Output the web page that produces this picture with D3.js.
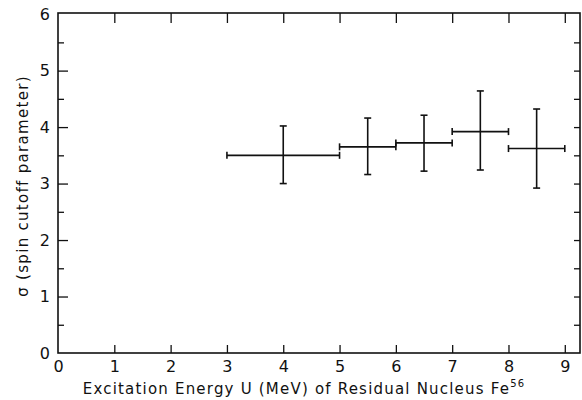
<!DOCTYPE html>
<html>
<head>
<meta charset="utf-8">
<script src="https://cdn.jsdelivr.net/npm/d3@7"></script>
<style>
  html, body { margin: 0; padding: 0; background: #fff; }
  svg { display: block; }
  text { font-family: "DejaVu Sans", "Liberation Sans", sans-serif; fill: #111; }
</style>
</head>
<body>
<svg id="chart" width="582" height="400"></svg>
<script>
// ---- data ----
const energy      = [4, 5.5, 6.5, 7.5, 8.5];      // bin centres (MeV)
const energyLow   = [3, 5, 6, 7, 8];
const energyHigh  = [5, 6, 7, 8, 9];
const sigma       = [3.50, 3.65, 3.72, 3.92, 3.62];
const sigmaLow    = [3.00, 3.16, 3.22, 3.24, 2.92];
const sigmaHigh   = [4.02, 4.16, 4.21, 4.64, 4.32];
const xTicks      = [0, 1, 2, 3, 4, 5, 6, 7, 8, 9];
const yTicks      = [0, 1, 2, 3, 4, 5, 6];
const yMinorTicks = [0.5, 1.5, 2.5, 3.5, 4.5, 5.5];
const yRightTicks = [0.5, 1, 1.5, 2, 2.5, 3, 3.5, 4, 4.5, 5, 5.5];
const xLabel = "Excitation Energy U (MeV) of Residual Nucleus Fe";
const xLabelSup = "56";
const yLabel = "σ (spin cutoff parameter)";

const svg = d3.select("#chart");
const mLeft = 58, mRight = 580, mTop = 13, mBottom = 353;
const x = d3.scaleLinear().domain([0, 9.27]).range([mLeft, mRight]);
const y = d3.scaleLinear().domain([0, 6.02]).range([mBottom, mTop]);

const ink = "#111";
const fmt = d3.format("d");

// frame
svg.append("rect")
  .attr("x", mLeft).attr("y", mTop)
  .attr("width", mRight - mLeft).attr("height", mBottom - mTop)
  .attr("fill", "none").attr("stroke", ink).attr("stroke-width", 1.6);

// bottom axis (inward ticks)
const bAxis = svg.append("g").attr("transform", `translate(0,${mBottom})`)
  .call(d3.axisTop(x).tickValues(xTicks.filter(d => d > 0)).tickSize(8).tickFormat(""));
bAxis.select(".domain").remove();
bAxis.selectAll("line").attr("stroke", ink).attr("stroke-width", 1.3);

// x tick labels
const xl = svg.append("g").attr("transform", `translate(0,${mBottom})`)
  .call(d3.axisBottom(x).tickValues(xTicks).tickSize(0).tickPadding(8).tickFormat(fmt));
xl.select(".domain").remove();
xl.selectAll("text").attr("font-size", 16).attr("dy", "0.71em");

// top axis (inward ticks)
const tAxis = svg.append("g").attr("transform", `translate(0,${mTop})`)
  .call(d3.axisBottom(x).tickValues(xTicks.filter(d => d > 0)).tickSize(10).tickFormat(""));
tAxis.select(".domain").remove();
tAxis.selectAll("line").attr("stroke", ink).attr("stroke-width", 1.3);

// left axis major (inward)
const lAxis = svg.append("g").attr("transform", `translate(${mLeft},0)`)
  .call(d3.axisRight(y).tickValues(yTicks.filter(d => d > 0 && d < 6)).tickSize(10).tickFormat(""));
lAxis.select(".domain").remove();
lAxis.selectAll("line").attr("stroke", ink).attr("stroke-width", 1.3);

// left minor
const lMinor = svg.append("g").attr("transform", `translate(${mLeft},0)`)
  .call(d3.axisRight(y).tickValues(yMinorTicks).tickSize(6).tickFormat(""));
lMinor.select(".domain").remove();
lMinor.selectAll("line").attr("stroke", ink).attr("stroke-width", 1.3);

// y tick labels
const yl = svg.append("g").attr("transform", `translate(${mLeft},0)`)
  .call(d3.axisLeft(y).tickValues(yTicks).tickSize(0).tickPadding(8).tickFormat(fmt));
yl.select(".domain").remove();
yl.selectAll("text").attr("font-size", 16);

// right axis (inward)
const rAxis = svg.append("g").attr("transform", `translate(${mRight},0)`)
  .call(d3.axisLeft(y).tickValues(yRightTicks).tickSize(6).tickFormat(""));
rAxis.select(".domain").remove();
rAxis.selectAll("line").attr("stroke", ink).attr("stroke-width", 1.3);

// error bars
const cap = 3.5;
const pts = energy.map((e, i) => ({
  x: e, lo: energyLow[i], hi: energyHigh[i],
  y: sigma[i], ylo: sigmaLow[i], yhi: sigmaHigh[i]
}));
const g = svg.append("g").attr("stroke", ink).attr("stroke-width", 1.6).attr("fill", "none");
const eb = g.selectAll("g.eb").data(pts).join("g").attr("class", "eb");
eb.append("line")
  .attr("x1", d => x(d.lo)).attr("x2", d => x(d.hi))
  .attr("y1", d => y(d.y)).attr("y2", d => y(d.y));
eb.append("line")
  .attr("x1", d => x(d.lo)).attr("x2", d => x(d.lo))
  .attr("y1", d => y(d.y) - cap).attr("y2", d => y(d.y) + cap);
eb.append("line")
  .attr("x1", d => x(d.hi)).attr("x2", d => x(d.hi))
  .attr("y1", d => y(d.y) - cap).attr("y2", d => y(d.y) + cap);
eb.append("line")
  .attr("x1", d => x(d.x)).attr("x2", d => x(d.x))
  .attr("y1", d => y(d.ylo)).attr("y2", d => y(d.yhi));
eb.append("line")
  .attr("x1", d => x(d.x) - cap).attr("x2", d => x(d.x) + cap)
  .attr("y1", d => y(d.ylo)).attr("y2", d => y(d.ylo));
eb.append("line")
  .attr("x1", d => x(d.x) - cap).attr("x2", d => x(d.x) + cap)
  .attr("y1", d => y(d.yhi)).attr("y2", d => y(d.yhi));

// x title
const xt = svg.append("text")
  .attr("x", 304).attr("y", 394)
  .attr("text-anchor", "middle")
  .attr("font-size", 15)
  .attr("letter-spacing", "1.2px");
xt.append("tspan").text(xLabel);
xt.append("tspan").attr("font-size", 10).attr("dy", -7).text(xLabelSup);

// y title
svg.append("text")
  .attr("transform", "translate(28,186) rotate(-90)")
  .attr("text-anchor", "middle")
  .attr("font-size", 15)
  .attr("letter-spacing", "1.3px")
  .text(yLabel);
</script>
</body>
</html>
